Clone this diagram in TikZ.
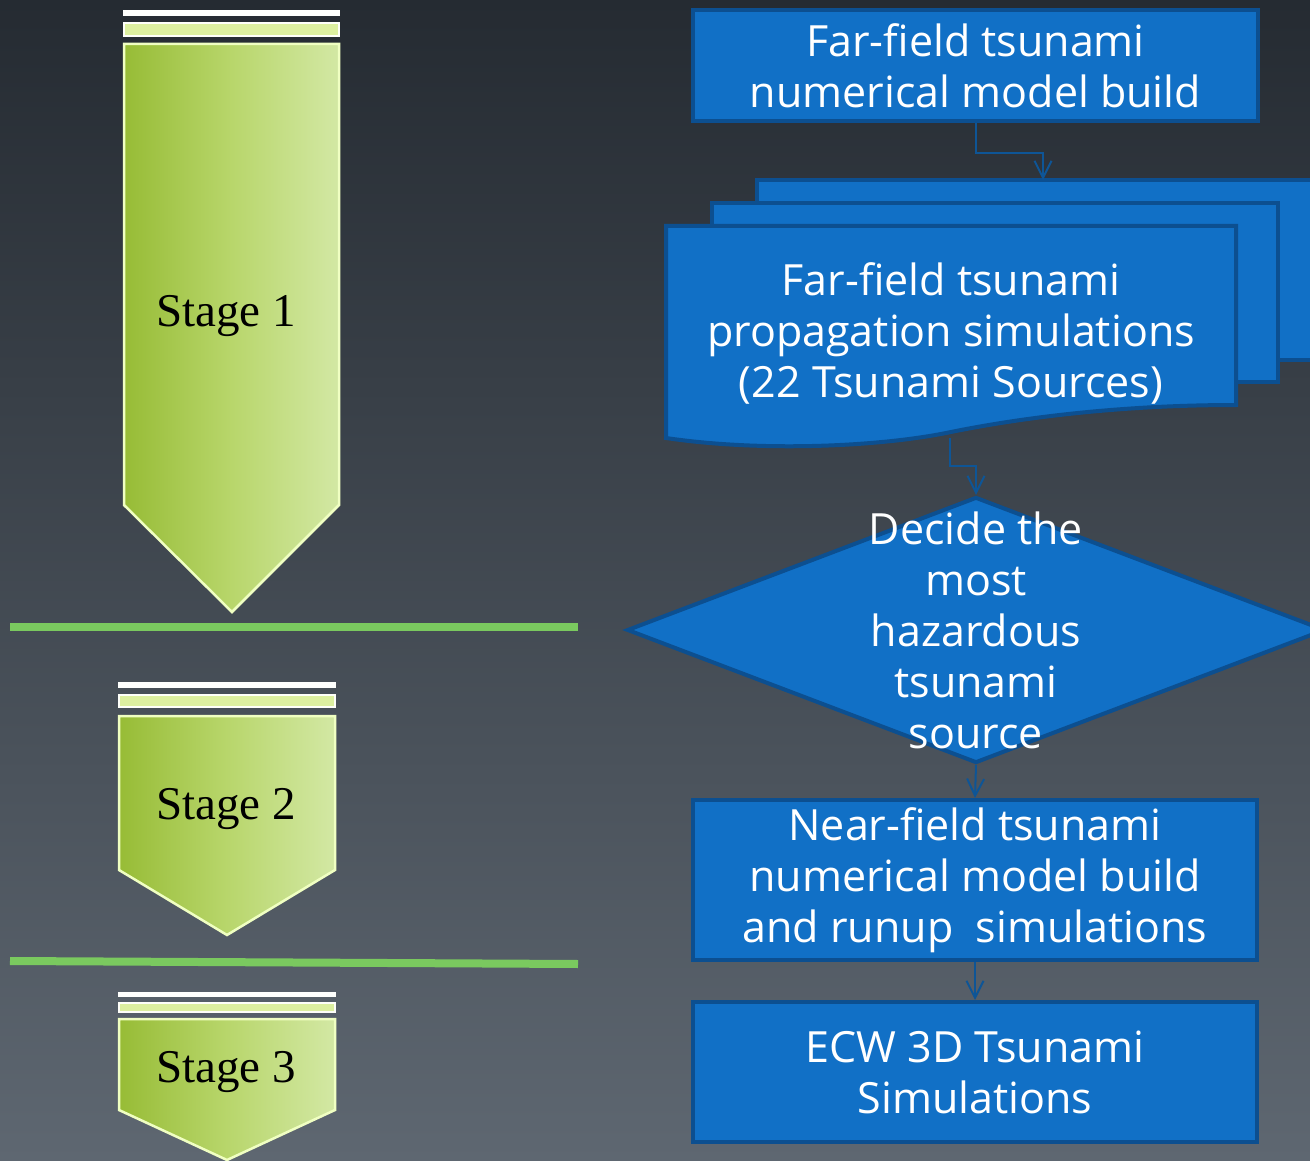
\documentclass[tikz,border=0pt]{standalone}
\usepackage{fontspec}
\setmainfont{Liberation Serif}
\newfontfamily\boxfont{Open Sans}
\usetikzlibrary{arrows.meta,shapes.geometric}
\definecolor{bgtop}{HTML}{252B32}
\definecolor{bgmid}{HTML}{2B3139}
\definecolor{bgbot}{HTML}{5E6771}
\definecolor{bluefill}{HTML}{1170C6}
\definecolor{blueline}{HTML}{0C4F90}
\definecolor{arrowc}{HTML}{0E5596}
\definecolor{sepgreen}{HTML}{7AC95F}
\definecolor{chevdark}{HTML}{97BC36}
\definecolor{chevmid}{HTML}{B8D66B}
\definecolor{chevlight}{HTML}{D3E8A4}
\definecolor{chevedge}{HTML}{F0FFC2}
\definecolor{stripe}{HTML}{DDF0A0}
\tikzset{
  bluebox/.style={draw=blueline, line width=4pt, fill=bluefill, rectangle, inner sep=0pt, text=white,
    font=\boxfont\fontsize{43}{51}\selectfont, align=center},
  bluetext/.style={text=white, font=\boxfont\fontsize{43}{51}\selectfont, align=center, inner sep=0pt},
  sheet/.style={draw=blueline, line width=4pt, fill=bluefill},
  chevbody/.style={left color=chevdark, right color=chevlight, middle color=chevmid, draw=chevedge, line width=2.5pt},
  topstripe/.style={fill=white!96!chevedge},
  midstripe/.style={fill=stripe, draw=white!90!chevedge, line width=2pt},
  stagelbl/.style={font=\fontsize{47}{50}\selectfont, text=black, inner sep=0pt},
  conn/.style={draw=arrowc, line width=2pt, -{Straight Barb[length=17pt,width=17pt,line width=2pt]}},
  sepline/.style={draw=sepgreen, line width=8pt}
}
\begin{document}
\begin{tikzpicture}[x=1pt,y=-1pt]
\useasboundingbox (0,0) rectangle (1310,1161);
\shade[top color=bgtop, middle color=bgmid, bottom color=bgbot] (0,0) rectangle (1310,1161);

% Stage 1 chevron
\fill[topstripe] (123,10) rectangle (340,16);
\path[midstripe] (124,23) rectangle (339,36);
\path[chevbody] (124,44) -- (339,44) -- (339,505) -- (232,612) -- (124,505) -- cycle;
\node[stagelbl] (s1) at (226,316) {Stage 1};

% Stage 2 chevron
\fill[topstripe] (118,682) rectangle (336,688);
\path[midstripe] (119,695) rectangle (335,707);
\path[chevbody] (119,716) -- (335,716) -- (335,870) -- (227,935) -- (119,870) -- cycle;
\node[stagelbl] (s2) at (226,809) {Stage 2};

% Stage 3 chevron
\fill[topstripe] (118,992) rectangle (336,997);
\path[midstripe] (119,1003) rectangle (335,1012);
\path[chevbody] (119,1019) -- (335,1019) -- (335,1110) -- (227,1160) -- (119,1110) -- cycle;
\node[stagelbl] (s3) at (226,1072) {Stage 3};

% separators
\draw[sepline] (10,627) -- (578,627);
\draw[sepline] (10,961) -- (578,964);

% box 1
\node[bluebox, minimum width=565pt, minimum height=111pt] (b1) at (975.5,65.5)
  {Far-field tsunami\\numerical model build};

% multi-document
\path[sheet] (757,180) -- (1330,180) -- (1330,360) -- (757,360) -- cycle;
\coordinate (sheettop) at (1043,180);
\path[sheet] (712,203) -- (1278,203) -- (1278,382) -- (712,382) -- cycle;
\path[sheet] (666,226) -- (1236,226) -- (1236,405)
  .. controls (1110,405) and (1010,420) .. (951,432)
  .. controls (880,447) and (760,452) .. (666,438) -- cycle;
\node[bluetext] (doc) at (951,333)
  {Far-field tsunami\\propagation simulations\\(22 Tsunami Sources)};
\coordinate (docbot) at (950,438);

% diamond
\node[diamond, draw=blueline, line width=4pt, fill=bluefill, minimum width=698pt, minimum height=266pt, inner sep=0pt] (dia) at (976,630) {};
\node[bluetext] (diatext) at (dia.center)
  {Decide the\\most\\hazardous\\tsunami\\source};

% box 3
\node[bluebox, minimum width=564pt, minimum height=160pt] (b3) at (975,880)
  {Near-field tsunami\\numerical model build\\and runup\ \ simulations};

% box 4
\node[bluebox, minimum width=564pt, minimum height=140pt] (b4) at (975,1072)
  {ECW 3D Tsunami\\Simulations};

% connectors
\draw[conn] (b1.south) -- ++(0,30) -| (sheettop);
\draw[conn] (docbot) -- ++(0,28) -| (dia.north);
\draw[conn] (dia.south) -- (b3.north);
\draw[conn] (b3.south) -- (b4.north);
\end{tikzpicture}
\end{document}
